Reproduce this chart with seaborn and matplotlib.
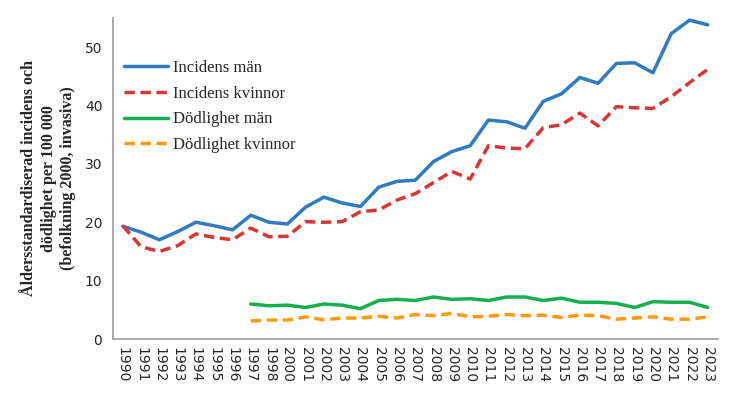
import numpy as np
import pandas as pd
import matplotlib
matplotlib.use("Agg")
import matplotlib.pyplot as plt
import seaborn as sns

# årtal (1999 saknas i originalet)
years = [1990, 1991, 1992, 1993, 1994, 1995, 1996, 1997, 1998, 2000,
         2001, 2002, 2003, 2004, 2005, 2006, 2007, 2008, 2009, 2010,
         2011, 2012, 2013, 2014, 2015, 2016, 2017, 2018, 2019, 2020,
         2021, 2022, 2023]

inc_man = [19.3, 18.3, 17.0, 18.4, 20.0, 19.4, 18.7, 21.2, 20.0, 19.7,
           22.6, 24.3, 23.3, 22.7, 26.0, 27.0, 27.2, 30.4, 32.1, 33.1,
           37.5, 37.2, 36.1, 40.7, 42.0, 44.8, 43.8, 47.2, 47.3, 45.6,
           52.3, 54.6, 53.8]
inc_kvinnor = [19.4, 15.8, 15.0, 16.0, 18.0, 17.4, 17.0, 19.0, 17.5, 17.6,
               20.1, 20.0, 20.1, 21.8, 22.1, 23.8, 24.9, 26.8, 28.7, 27.4,
               33.1, 32.7, 32.6, 36.2, 36.7, 38.7, 36.5, 39.8, 39.6, 39.5,
               41.5, 43.9, 46.2]
dod_man = [np.nan] * 7 + [6.0, 5.7, 5.8, 5.4, 6.0, 5.8, 5.2, 6.6, 6.8,
                          6.6, 7.2, 6.8, 6.9, 6.6, 7.2, 7.2, 6.6, 7.0,
                          6.3, 6.3, 6.1, 5.4, 6.4, 6.3, 6.3, 5.4]
dod_kvinnor = [np.nan] * 7 + [3.1, 3.25, 3.25, 3.8, 3.3, 3.6, 3.6, 3.9, 3.6,
                              4.2, 4.0, 4.4, 3.8, 3.9, 4.2, 4.0, 4.1, 3.7,
                              4.1, 4.0, 3.4, 3.6, 3.8, 3.4, 3.4, 3.8]

sns.set_style("white")
plt.rcParams['font.family'] = ['DejaVu Sans']

pos = np.arange(len(years))
fig, ax = plt.subplots(figsize=(7.37, 3.97), dpi=100)
fig.subplots_adjust(left=0.153, right=0.974, bottom=0.146, top=0.955)

serier = [
    ("Incidens män", inc_man, "#2E7BBF", (None, None)),
    ("Incidens kvinnor", inc_kvinnor, "#D93535", (3, 1.6)),
    ("Dödlighet män", dod_man, "#14B04E", (None, None)),
    ("Dödlighet kvinnor", dod_kvinnor, "#FF9A0A", (3, 1.6)),
]
for namn, vals, col, dash in serier:
    df = pd.DataFrame({"pos": pos, "v": vals}).dropna()
    sns.lineplot(data=df, x="pos", y="v", ax=ax, color=col, lw=2.5,
                 label=namn)
    if dash[0] is not None:
        ax.lines[-1].set_dashes(dash)

ax.set_xlim(-0.55, len(years) - 0.45)
ax.set_ylim(0, 55)
ax.set_yticks([0, 10, 20, 30, 40, 50])
ax.set_xticks(pos)
ax.set_xticklabels([str(y) for y in years], rotation=270, fontsize=10)
ax.set_xticks(np.arange(-0.5, len(years), 1), minor=True)
ax.tick_params(axis='x', which='major', length=0, pad=6)
ax.tick_params(axis='x', which='minor', length=4, color='#999999', width=1)
ax.tick_params(axis='y', length=4, color='#999999', width=1, labelsize=10)
ax.set_xlabel("")
ax.set_ylabel("Åldersstandardiserad incidens och\ndödlighet per 100 000\n(befolkning 2000, invasiva)",
              family='Liberation Serif', fontweight='bold', fontsize=11.5,
              linespacing=1.3, labelpad=6)
for s in ['top', 'right']:
    ax.spines[s].set_visible(False)
for s in ['left', 'bottom']:
    ax.spines[s].set_color('#999999')
    ax.spines[s].set_linewidth(1.2)

leg = ax.legend(loc='upper left', bbox_to_anchor=(0.0, 0.905), frameon=False,
                prop={'family': 'Liberation Serif', 'size': 12},
                handlelength=2.6, handletextpad=0.3, labelspacing=0.58,
                borderaxespad=0.3)

fig.savefig("out.png", dpi=100)
